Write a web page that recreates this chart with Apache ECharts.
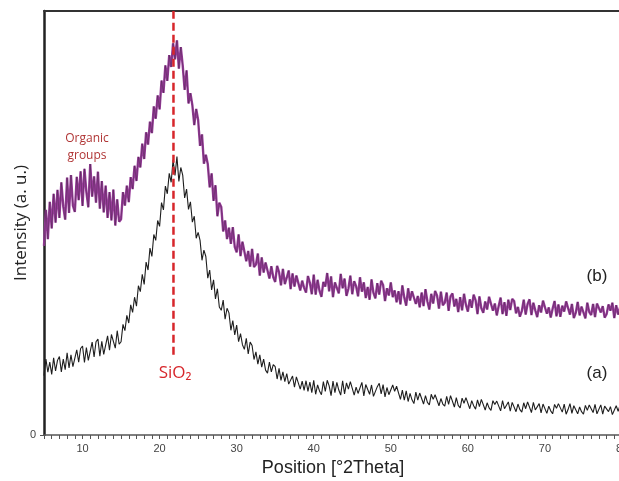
<!DOCTYPE html>
<html>
<head>
<meta charset="utf-8">
<title>XRD patterns</title>
<script src="https://cdn.jsdelivr.net/npm/echarts@6/dist/echarts.min.js"></script>
<style>
  html, body { margin: 0; padding: 0; background: #fff; }
  #chart { width: 619px; height: 481px; }
</style>
</head>
<body>
<div id="chart"></div>
<script>
// Scan grid: 2θ from 5° to 80° in 0.25° steps
const thetaStart = 5;
const thetaStep = 0.25;

// Pattern (a): four readings per degree, 5°…79.75°, then 80°
const intensityA = [
  14.0, 17.9, 14.8, 17.2,   14.3, 18.2, 15.1, 17.6,   18.5, 14.9, 17.9, 15.4,
  19.4, 15.8, 18.9, 16.1,   16.3, 20.1, 17.2, 20.4,   21.0, 17.1, 20.6, 17.6,
  17.9, 21.9, 18.4, 22.0,   22.6, 18.6, 22.1, 19.0,   19.2, 23.4, 20.0, 23.7,
  24.1, 20.5, 24.6, 21.4,   22.0, 26.1, 24.6, 28.2,   26.4, 30.7, 28.9, 32.5,
  30.4, 35.2, 33.8, 37.9,   35.5, 40.8, 38.9, 44.1,   42.1, 47.3, 45.9, 50.6,
  49.2, 54.8, 53.1, 58.7,   56.9, 61.7, 59.6, 64.9,   61.2, 65.7, 59.8, 63.1,
  61.3, 55.9, 58.0, 53.2,   55.0, 50.2, 51.6, 46.4,   47.8, 45.9, 41.2, 43.6,
  42.1, 37.0, 38.9, 34.2,   36.6, 32.1, 34.5, 30.2,   29.4, 31.8, 27.3, 29.9,
  28.8, 24.7, 27.0, 23.6,   25.9, 22.0, 23.9, 21.3,   20.2, 22.8, 19.1, 21.9,
  21.1, 17.8, 19.6, 16.7,   18.9, 16.0, 17.9, 15.3,   14.6, 17.2, 14.9, 16.6,
  16.1, 13.2, 15.7, 12.9,   14.9, 12.6, 14.5, 12.0,   11.6, 13.9, 11.3, 13.7,
  13.4, 10.8, 12.7, 10.5,   12.8, 10.3, 12.5, 10.0,   12.9,  9.6, 11.8, 10.4,
   9.5, 12.6, 10.3, 12.9,   11.6,  9.3, 12.7, 10.0,   12.4, 10.6,  9.4, 12.8,
   9.7, 12.3, 10.8, 12.6,   12.5,  9.4, 11.3,  9.8,   10.2, 12.4,  9.2, 11.9,
  12.1,  9.6, 11.8,  9.1,    9.3, 11.4, 12.2,  9.7,   11.9,  9.0, 11.2,  9.5,
   9.1, 11.8, 10.3, 11.5,   11.2,  8.4, 10.6,  8.2,   10.4,  7.9,  9.8,  8.3,
   7.4, 10.1,  8.2,  9.9,    9.8,  7.3,  9.3,  7.7,    7.1,  9.6,  8.4,  9.5,
   9.4,  6.9,  8.6,  7.3,    6.8,  9.1,  7.2,  9.3,    8.9,  6.6,  8.8,  7.0,
   6.4,  8.7,  7.5,  8.8,    8.5,  6.2,  8.1,  6.9,    6.1,  8.3,  6.7,  8.4,
   8.2,  5.9,  7.6,  6.4,    5.8,  8.1,  7.2,  8.0,    7.9,  5.7,  8.1,  6.2,
   6.5,  7.8,  5.6,  7.7,    7.9,  5.5,  7.3,  6.0,    5.4,  7.6,  6.2,  7.8,
   7.5,  5.3,  7.7,  5.9,    5.6,  7.4,  5.2,  7.3,    7.3,  5.1,  6.8,  5.7,
   5.0,  7.2,  6.3,  7.4,    7.1,  5.4,  7.3,  4.9,    6.0,  7.4,  5.1,  6.9,
   7.2,  5.0,  6.6,  5.5,    4.9,  7.0,  5.8,  7.1,    6.9,  5.3,  7.2,  5.0,
   5.2,  7.1,  4.9,  6.8,    7.0,  5.5,  6.7,  4.8,    5.1,  6.9,  5.6,  7.0,
   6.2
];

// Pattern (b): same grid
const intensityB = [
  44.6, 53.1, 46.2, 55.0,   48.7, 56.9, 50.1, 57.8,   51.2, 59.6, 53.9, 50.8,
  60.7, 52.4, 61.3, 54.1,   52.6, 60.9, 55.4, 62.2,   54.0, 62.8, 57.3, 53.7,
  63.9, 56.2, 61.0, 54.8,   62.1, 53.4, 59.9, 52.5,   58.8, 51.2, 57.3, 50.6,
  57.9, 49.4, 55.6, 50.3,   50.9, 57.3, 54.1, 58.8,   54.9, 60.8, 58.0, 63.5,
  59.9, 65.6, 63.1, 68.7,   65.1, 71.4, 68.5, 73.9,   71.2, 77.5, 74.6, 80.1,
  76.8, 83.6, 80.7, 87.2,   83.5, 89.6, 86.8, 92.4,   88.6, 93.1, 86.4, 91.5,
  87.1, 81.4, 86.0, 78.2,   80.6, 77.8, 73.1, 76.9,   74.3, 68.2, 70.9, 64.0,
  66.1, 63.9, 58.4, 61.7,   55.2, 58.9, 51.6, 54.8,   53.8, 48.0, 50.6, 46.2,
  48.9, 45.1, 49.0, 44.4,   43.1, 47.3, 42.2, 45.6,   45.8, 41.0, 43.4, 39.7,
  43.9, 39.6, 40.2, 42.8,   37.6, 41.9, 38.3, 40.7,   41.1, 36.9, 39.8, 37.2,
  36.1, 39.9, 38.4, 35.3,   39.2, 35.6, 37.1, 38.8,   34.4, 38.1, 35.0, 37.6,
  37.9, 34.1, 36.4, 34.7,   33.6, 37.5, 35.9, 33.2,   37.8, 33.1, 36.6, 34.0,
  32.6, 36.1, 35.0, 38.2,   33.9, 37.4, 32.5, 36.0,   35.8, 33.4, 38.0, 34.6,
  36.9, 32.8, 34.5, 37.6,   33.2, 36.3, 35.1, 32.7,   37.2, 33.8, 36.0, 32.3,
  34.9, 31.9, 36.7, 33.5,   32.2, 35.8, 33.1, 36.4,   35.4, 31.6, 34.6, 32.9,
  36.0, 32.5, 34.1, 31.3,   33.9, 30.8, 35.3, 32.4,   30.5, 34.6, 31.7, 33.9,
  34.3, 30.9, 32.8, 30.1,   33.6, 30.4, 34.4, 31.5,   29.6, 33.3, 31.0, 34.0,
  32.9, 29.8, 33.8, 30.6,   31.2, 33.6, 29.3, 32.7,   33.4, 30.3, 32.1, 29.0,
  32.5, 29.4, 33.3, 30.7,   29.1, 32.0, 30.0, 33.1,   31.8, 28.5, 32.7, 29.9,
  28.8, 31.5, 29.6, 32.6,   32.2, 29.3, 31.0, 28.2,   30.4, 32.4, 28.5, 31.3,
  28.1, 31.9, 29.5, 32.1,   31.6, 28.7, 30.2, 27.9,   29.2, 31.9, 28.4, 30.9,
  32.0, 28.3, 31.2, 29.4,   27.8, 30.6, 28.9, 31.7,   31.3, 28.6, 30.1, 27.7,
  29.8, 31.6, 28.0, 30.8,   27.9, 30.5, 29.1, 31.5,   31.1, 28.4, 30.9, 27.6,
  28.8, 31.4, 28.2, 30.3,   30.7, 27.5, 31.2, 29.0,   28.3, 30.9, 27.8, 31.0,
  31.3, 28.9, 30.4, 27.7,   28.5, 30.8, 29.3, 31.2,   27.6, 30.6, 28.4, 30.1,
  29.2
];

// SiO2 reference position (2θ) and the span of its dashed marker
const siO2Position = 21.8;
const siO2MarkerRange = [18.9, 100];

const xLabelValues = [10, 20, 30, 40, 50, 60, 70, 80];
const yLabelValues = [0];

function toPairs(values) {
  return values.map((v, i) => [thetaStart + i * thetaStep, v]);
}

const chart = echarts.init(document.getElementById('chart'), null, { renderer: 'canvas' });

chart.setOption({
  animation: false,
  backgroundColor: '#ffffff',
  grid: { left: 44, top: 11, width: 578, bottom: 46, containLabel: false, outerBoundsMode: 'none' },
  xAxis: [
    {
      type: 'value',
      min: 5,
      max: 80,
      interval: 1,
      axisLine: { show: true, onZero: false, lineStyle: { color: '#555', width: 1.5 } },
      axisTick: { show: true, length: 4, lineStyle: { color: '#555', width: 1 } },
      axisLabel: {
        color: '#444',
        fontSize: 11,
        fontFamily: 'Liberation Sans',
        margin: 8,
        formatter: v => (xLabelValues.indexOf(v) >= 0 ? String(v) : '')
      },
      splitLine: { show: false },
      name: 'Position [°2Theta]',
      nameLocation: 'middle',
      nameGap: 21,
      nameTextStyle: { color: '#222', fontSize: 18, fontFamily: 'Liberation Sans' }
    },
    {
      type: 'value',
      position: 'top',
      min: 5,
      max: 80,
      axisLine: { show: true, onZero: false, lineStyle: { color: '#333', width: 2 } },
      axisTick: { show: false },
      axisLabel: { show: false },
      splitLine: { show: false }
    }
  ],
  yAxis: {
    type: 'value',
    min: 0,
    max: 100,
    axisLine: { show: true, onZero: false, lineStyle: { color: '#222', width: 2.5 } },
    axisTick: { show: true, length: 4, customValues: yLabelValues, lineStyle: { color: '#555' } },
    axisLabel: { customValues: yLabelValues, color: '#444', fontSize: 11, fontFamily: 'Liberation Sans', margin: 8 },
    splitLine: { show: false },
    name: 'Intensity (a. u.)',
    nameLocation: 'middle',
    nameMoveOverlap: false,
    nameGap: 14,
    nameTextStyle: { color: '#222', fontSize: 17, fontFamily: 'Open Sans' }
  },
  series: [
    {
      name: '(b)',
      type: 'line',
      data: toPairs(intensityB),
      showSymbol: false,
      lineStyle: { color: '#9a3d9c', width: 2.4 },
      z: 2
    },
    {
      name: '(b) trace',
      type: 'line',
      data: toPairs(intensityB),
      showSymbol: false,
      lineStyle: { color: '#1a1a1a', width: 0.5, opacity: 0.6 },
      z: 3
    },
    {
      name: '(a)',
      type: 'line',
      data: toPairs(intensityA),
      showSymbol: false,
      lineStyle: { color: '#1e1e1e', width: 1.1 },
      z: 3
    },
    {
      name: 'SiO2',
      type: 'line',
      data: siO2MarkerRange.map(v => [siO2Position, v]),
      showSymbol: false,
      lineStyle: { color: '#d7262b', width: 2.5, type: [8, 4] },
      z: 4
    }
  ],
  graphic: [
    {
      type: 'text', x: 87, y: 147, z: 10,
      style: {
        text: 'Organic\ngroups', fill: '#b03535',
        font: '12px "Open Sans"', lineHeight: 17,
        align: 'center', verticalAlign: 'middle',
        textAlign: 'center', textVerticalAlign: 'middle'
      }
    },
    {
      type: 'text', x: 175, y: 373, z: 10,
      style: {
        text: 'SiO₂', fill: '#d7262b',
        font: '17px "Open Sans"',
        align: 'center', verticalAlign: 'middle',
        textAlign: 'center', textVerticalAlign: 'middle'
      }
    },
    {
      type: 'text', x: 597, y: 276, z: 10,
      style: {
        text: '(b)', fill: '#222',
        font: '17px "Liberation Sans"',
        align: 'center', verticalAlign: 'middle',
        textAlign: 'center', textVerticalAlign: 'middle'
      }
    },
    {
      type: 'text', x: 597, y: 373, z: 10,
      style: {
        text: '(a)', fill: '#222',
        font: '17px "Liberation Sans"',
        align: 'center', verticalAlign: 'middle',
        textAlign: 'center', textVerticalAlign: 'middle'
      }
    }
  ]
});
</script>
</body>
</html>
